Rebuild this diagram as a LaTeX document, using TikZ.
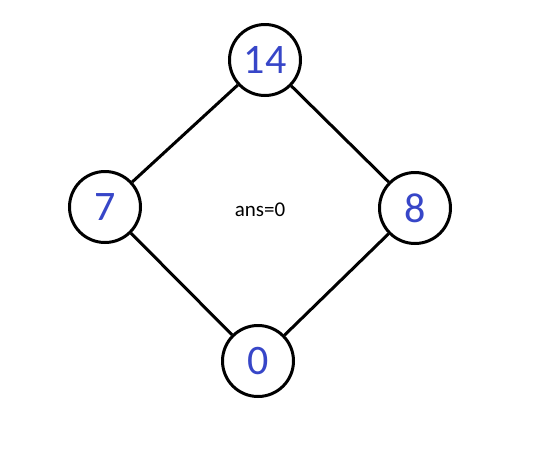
\documentclass[tikz,border=0pt]{standalone}
\usepackage{fontspec}
\setmainfont{Carlito}
\usepackage{tikz}
\definecolor{digitBlue}{RGB}{55,70,200}
\usetikzlibrary{positioning}

\begin{document}
\begin{tikzpicture}[
  x=1pt,
  y=-1pt,
  every node/.style={align=center},
  vertex/.style={circle, draw=black, line width=3pt, fill=white, minimum size=71pt, inner sep=0pt, text=digitBlue, font=\fontsize{42}{42}\selectfont},
  edge/.style={line width=3pt, draw=black}
]
\useasboundingbox (0,0) rectangle (535,448);

\node[vertex] (n14) at (265,60) {14};
\node[vertex] (n7) at (105,207) {7};
\node[vertex] (n8) at (415,208) {8};
\node[vertex] (n0) at (258,361) {0};
\node[font=\fontsize{21}{21}\selectfont] (ans) at (260,210) {ans=0};

\draw[edge] (n14) -- (n7);
\draw[edge] (n14) -- (n8);
\draw[edge] (n7) -- (n0);
\draw[edge] (n8) -- (n0);
\end{tikzpicture}
\end{document}
